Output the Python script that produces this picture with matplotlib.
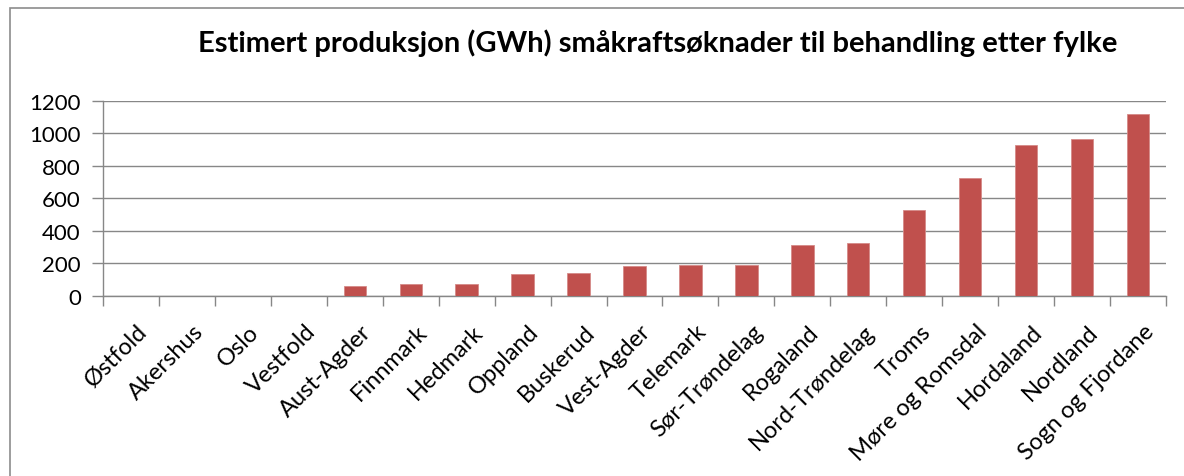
import matplotlib.pyplot as plt
from matplotlib.patches import Rectangle
import numpy as np

# Fylker og estimert produksjon (GWh)
fylker = ["Østfold", "Akershus", "Oslo", "Vestfold", "Aust-Agder", "Finnmark",
          "Hedmark", "Oppland", "Buskerud", "Vest-Agder", "Telemark",
          "Sør-Trøndelag", "Rogaland", "Nord-Trøndelag", "Troms",
          "Møre og Romsdal", "Hordaland", "Nordland", "Sogn og Fjordane"]
gwh = [0, 0, 0, 0, 60, 72, 72, 135, 143, 184, 189, 189, 313, 324, 528,
       723, 926, 965, 1116]
yticks = [0, 200, 400, 600, 800, 1000, 1200]

plt.rcParams['font.family'] = ['Lato', 'DejaVu Sans']

W, H = 1184, 477
fig = plt.figure(figsize=(W / 100, H / 100), dpi=100)
# chart frame (cut off at right/bottom like the screenshot)
fig.patches.append(Rectangle((10 / W, -0.1), 1.2, (H - 9) / H + 0.1,
                             transform=fig.transFigure, fill=False,
                             edgecolor='#8c8c8c', lw=1.2))

ax = fig.add_axes([103 / W, (H - 297) / H, (1166 - 103) / W, (297 - 101.7) / H])
x = np.arange(len(fylker))
ax.bar(x, gwh, width=0.4, color='#C0504D', edgecolor='#D58a88', linewidth=0.6, zorder=3)

ax.set_xlim(-0.5, len(fylker) - 0.5)
ax.set_ylim(0, 1200)
ax.set_yticks(yticks)
ax.set_yticklabels([str(v) for v in yticks], fontsize=16)
ax.yaxis.grid(True, color='#878787', lw=1.0, zorder=0)
ax.tick_params(axis='y', length=8, color='#878787', width=1.0, pad=8)

ax.set_xticks(np.arange(-0.5, len(fylker), 1.0))
ax.set_xticklabels([])
ax.tick_params(axis='x', length=7, color='#878787', width=1.0, direction='out')
for i, name in enumerate(fylker):
    ax.text(i + 0.1, -150, name, rotation=45, ha='right', va='top',
            rotation_mode='anchor', fontsize=17)

for s in ['top', 'right']:
    ax.spines[s].set_visible(False)
for s in ['left', 'bottom']:
    ax.spines[s].set_color('#878787')
    ax.spines[s].set_linewidth(1.0)

fig.text(658 / W, 1 - 43 / H, "Estimert produksjon (GWh) småkraftsøknader til behandling etter fylke",
         ha='center', va='center', fontsize=21, fontweight='bold')

fig.savefig("out.png", dpi=100)
